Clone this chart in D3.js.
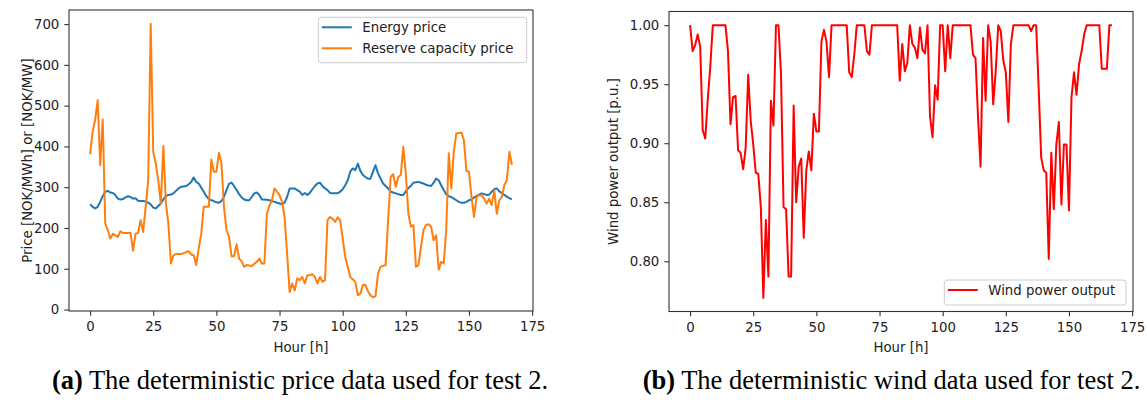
<!DOCTYPE html>
<html>
<head>
<meta charset="utf-8">
<script src="https://cdn.jsdelivr.net/npm/d3@7"></script>
<style>
  body { margin: 0; background: #fff; }
  svg text { font-family: "DejaVu Sans", sans-serif; fill: #222; }
  .caption { font-family: "Liberation Serif", "Times New Roman", serif; fill: #000; }
</style>
</head>
<body>
<script>
// hourly values (168 hours)
const hours = d3.range(168);

const energyPrice = [
  258, 252, 248, 252, 264, 278, 289, 291, 287, 286,
  281, 272, 270, 271, 275, 278, 276, 272, 273, 267,
  266, 266, 265, 262, 258, 250, 248, 254, 260, 270,
  278, 281, 282, 285, 291, 297, 301, 302, 303, 307,
  313, 324, 313, 309, 299, 289, 278, 271, 268, 266,
  263, 262, 266, 276, 293, 308, 311, 303, 293, 283,
  275, 270, 268, 268, 276, 285, 287, 281, 270, 270,
  269, 268, 266, 264, 262, 260, 258, 262, 276, 297,
  297, 297, 293, 289, 281, 286, 281, 286, 295, 303,
  309, 311, 303, 297, 293, 286, 285, 285, 285, 289,
  295, 305, 317, 338, 346, 342, 358, 340, 330, 325,
  321, 321, 338, 354, 334, 321, 309, 303, 297, 289,
  287, 285, 283, 281, 281, 290, 298, 303, 311, 312,
  313, 311, 309, 306, 304, 303, 311, 321, 317, 305,
  293, 283, 278, 276, 272, 268, 264, 262, 262, 264,
  268, 270, 275, 278, 282, 285, 283, 281, 282, 289,
  295, 297, 290, 286, 281, 277, 273, 270
];

const reservePrice = [
  381, 436, 465, 513, 354, 466, 211, 195, 174, 186,
  182, 178, 192, 188, 188, 188, 188, 144, 186, 188,
  219, 190, 252, 317, 701, 387, 358, 317, 260, 401,
  260, 210, 113, 133, 136, 136, 136, 138, 141, 143,
  135, 133, 109, 150, 186, 252, 252, 252, 368, 338,
  338, 384, 360, 252, 195, 178, 131, 131, 160, 125,
  118, 105, 109, 108, 107, 112, 117, 125, 113, 113,
  235, 255, 268, 297, 289, 280, 264, 227, 137, 43,
  64, 47, 76, 72, 80, 64, 84, 84, 87, 80,
  64, 80, 68, 72, 219, 227, 223, 215, 226, 219,
  175, 129, 105, 80, 74, 68, 35, 39, 60, 60,
  45, 35, 30, 33, 88, 105, 107, 109, 220, 325,
  332, 301, 325, 330, 399, 334, 235, 203, 207, 105,
  109, 154, 195, 207, 209, 203, 170, 182, 98, 117,
  113, 195, 383, 297, 387, 432, 433, 434, 415, 340,
  338, 276, 227, 276, 280, 280, 272, 260, 272, 256,
  293, 235, 268, 276, 305, 317, 387, 355
];

const windPower = [
  1.000, 0.978, 0.983, 0.992, 0.982, 0.911, 0.904, 0.937, 0.965, 1.000,
  1.000, 1.000, 1.000, 1.000, 1.000, 0.978, 0.916, 0.939, 0.940, 0.894,
  0.892, 0.878, 0.896, 0.958, 0.919, 0.899, 0.875, 0.874, 0.846, 0.769,
  0.835, 0.787, 0.936, 0.915, 1.000, 1.000, 0.958, 0.846, 0.844, 0.787,
  0.787, 0.932, 0.850, 0.880, 0.887, 0.820, 0.877, 0.893, 0.877, 0.925,
  0.910, 0.910, 0.986, 0.996, 0.986, 0.956, 1.000, 1.000, 1.000, 1.000,
  1.000, 1.000, 1.000, 0.960, 0.956, 0.975, 1.000, 1.000, 1.000, 1.000,
  0.978, 0.975, 1.000, 1.000, 1.000, 1.000, 1.000, 1.000, 1.000, 1.000,
  1.000, 1.000, 1.000, 0.953, 0.984, 0.961, 0.968, 1.000, 0.984, 0.981,
  0.972, 0.998, 0.979, 0.976, 1.000, 0.922, 0.905, 0.949, 0.937, 1.000,
  1.000, 0.961, 1.000, 0.972, 1.000, 1.000, 1.000, 1.000, 1.000, 1.000,
  1.000, 1.000, 0.975, 0.972, 0.922, 0.880, 0.989, 0.936, 1.000, 0.986,
  0.933, 0.961, 1.000, 0.995, 0.970, 0.960, 0.918, 0.984, 1.000, 1.000,
  1.000, 1.000, 1.000, 1.000, 1.000, 0.995, 1.000, 1.000, 0.947, 0.888,
  0.877, 0.875, 0.802, 0.892, 0.844, 0.899, 0.918, 0.848, 0.899, 0.899,
  0.843, 0.939, 0.960, 0.941, 0.967, 0.978, 0.992, 1.000, 1.000, 1.000,
  1.000, 1.000, 1.000, 0.963, 0.963, 0.963, 1.000, 1.000
];

const hourTicks = [0, 25, 50, 75, 100, 125, 150, 175];
const priceTicks = [0, 100, 200, 300, 400, 500, 600, 700];
const windTicks = [0.80, 0.85, 0.90, 0.95, 1.00];

const width = 1147;
const height = 403;
const fontSize = 13.3;

const svg = d3.select("body").append("svg")
  .attr("width", width)
  .attr("height", height);

// matplotlib style: 5% margin around data extent
function padded([lo, hi]) {
  const m = (hi - lo) * 0.05;
  return [lo - m, hi + m];
}

function panel(opt) {
  const g = svg.append("g");
  const x = d3.scaleLinear(padded(d3.extent(hours)), [opt.left, opt.right]);
  const allY = opt.series.flatMap((s) => s.values);
  const y = d3.scaleLinear(padded(d3.extent(allY)), [opt.bottom, opt.top]);

  const line = (vals) => d3.line()
    .x((d, i) => x(hours[i]))
    .y((d) => y(d))(vals);

  g.selectAll("path.series")
    .data(opt.series)
    .join("path")
    .attr("class", "series")
    .attr("d", (s) => line(s.values))
    .attr("fill", "none")
    .attr("stroke", (s) => s.color)
    .attr("stroke-width", 2)
    .attr("stroke-linejoin", "round");

  // frame
  g.append("rect")
    .attr("x", opt.left).attr("y", opt.top)
    .attr("width", opt.right - opt.left).attr("height", opt.bottom - opt.top)
    .attr("fill", "none").attr("stroke", "#333").attr("stroke-width", 1.1);

  const xAxis = g.append("g")
    .attr("transform", `translate(0,${opt.bottom})`)
    .call(d3.axisBottom(x).tickValues(hourTicks).tickSize(4.7).tickPadding(6.3));
  const yAxis = g.append("g")
    .attr("transform", `translate(${opt.left},0)`)
    .call(d3.axisLeft(y).tickValues(opt.yTicks).tickFormat(opt.yFormat).tickSize(4.7).tickPadding(5));

  [xAxis, yAxis].forEach((a) => {
    a.select(".domain").remove();
    a.selectAll("line").attr("stroke", "#333").attr("stroke-width", 1.1);
    a.selectAll("text").attr("font-size", fontSize).attr("fill", "#222")
      .attr("font-family", "DejaVu Sans");
  });

  g.append("text")
    .attr("x", (opt.left + opt.right) / 2)
    .attr("y", 352)
    .attr("text-anchor", "middle")
    .attr("font-size", fontSize)
    .text("Hour [h]");

  g.append("text")
    .attr("transform", `translate(${opt.yLabelX},${(opt.top + opt.bottom) / 2}) rotate(-90)`)
    .attr("text-anchor", "middle")
    .attr("font-size", fontSize)
    .text(opt.yLabel);

  // legend
  const L = opt.legend;
  const lg = g.append("g");
  lg.append("rect")
    .attr("x", L.x).attr("y", L.y).attr("width", L.w).attr("height", L.h)
    .attr("rx", 3)
    .attr("fill", "#fff").attr("fill-opacity", 0.8)
    .attr("stroke", "#ccc").attr("stroke-width", 1);
  opt.series.forEach((s, i) => {
    const cy = L.y + 10 + i * 21;
    lg.append("line")
      .attr("x1", L.x + 3.5).attr("x2", L.x + 33.5)
      .attr("y1", cy).attr("y2", cy)
      .attr("stroke", s.color).attr("stroke-width", 2);
    lg.append("text")
      .attr("x", L.x + 44)
      .attr("y", cy)
      .attr("dy", "0.35em")
      .attr("font-size", fontSize)
      .text(s.name);
  });

  const cap = g.append("text")
    .attr("class", "caption")
    .attr("x", opt.captionX)
    .attr("y", 389)
    .attr("text-anchor", "middle")
    .attr("font-size", 26.5);
  cap.append("tspan").attr("font-weight", "bold").text(opt.tag);
  cap.append("tspan").text(" " + opt.caption);
}

panel({
  left: 69, right: 533, top: 10, bottom: 311,
  series: [
    { name: "Energy price", values: energyPrice, color: "#1f77b4" },
    { name: "Reserve capacity price", values: reservePrice, color: "#ff7f0e" }
  ],
  yTicks: priceTicks,
  yFormat: d3.format("d"),
  yLabel: "Price [NOK/MWh] or [NOK/MW]",
  yLabelX: 31.5,
  legend: { x: 318.3, y: 17.3, w: 208.4, h: 45.4 },
  tag: "(a)",
  caption: "The deterministic price data used for test 2.",
  captionX: 300
});

panel({
  left: 669, right: 1133, top: 11.5, bottom: 311.5,
  series: [
    { name: "Wind power output", values: windPower, color: "#ff0000" }
  ],
  yTicks: windTicks,
  yFormat: d3.format(".2f"),
  yLabel: "Wind power output [p.u.]",
  yLabelX: 617.5,
  legend: { x: 944.3, y: 280, w: 181.7, h: 25 },
  tag: "(b)",
  caption: "The deterministic wind data used for test 2.",
  captionX: 891.5
});
</script>
</body>
</html>
